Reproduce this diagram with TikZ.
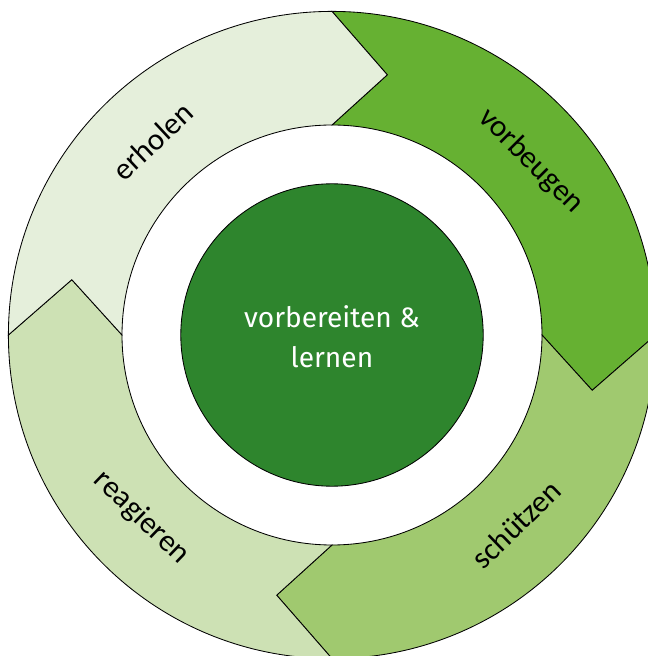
\documentclass[tikz,border=0pt]{standalone}
\usepackage{fontspec}
\setmainfont{Carlito}
\newfontfamily\corefont{Fira Sans}

\definecolor{recover}{HTML}{E5EFDB}
\definecolor{prevent}{HTML}{66B132}
\definecolor{protect}{HTML}{A0C96F}
\definecolor{respond}{HTML}{CDE1B4}
\definecolor{core}{HTML}{2E852D}

\tikzset{
  ringpart/.style={draw=black, line width=0.6pt, line join=miter},
  ringlabel/.style={font=\fontsize{22}{26}\selectfont, text=black},
  corelabel/.style={font=\corefont\fontsize{20}{28.5}\selectfont, text=white, align=center}
}

\begin{document}
\begin{tikzpicture}
  \clip (-8.3, -8.025) rectangle (7.9, 8.375);

  % outer and inner radius of the ring, radius of the arrow tips
  \def\Rout{8.09}
  \def\Rin{5.25}
  \def\Rmid{6.65}

  % four arrow pieces, running clockwise
  \foreach \a/\col in {90/prevent, 0/protect, -90/respond, 180/recover} {
    \draw[ringpart, fill=\col]
      (\a:\Rout) arc[start angle=\a, end angle=\a-90, radius=\Rout]
      -- (\a-102:\Rmid) -- (\a-90:\Rin)
      arc[start angle=\a-90, end angle=\a, radius=\Rin]
      -- (\a-12:\Rmid) -- cycle;
  }

  \node[ringlabel, rotate=43]  (erholen)   at (132.7:6.6) {erholen};
  \node[ringlabel, rotate=-45] (vorbeugen) at (41.2:6.6)  {vorbeugen};
  \node[ringlabel, rotate=44]  (schuetzen) at (-45.8:6.6) {schützen};
  \node[ringlabel, rotate=-44] (reagieren) at (223.8:6.6) {reagieren};

  \draw[ringpart, fill=core] (0, 0) circle[radius=3.78];
  \node[corelabel] (vorbereiten) at (0, -0.05) {vorbereiten \&\\lernen};
\end{tikzpicture}
\end{document}
